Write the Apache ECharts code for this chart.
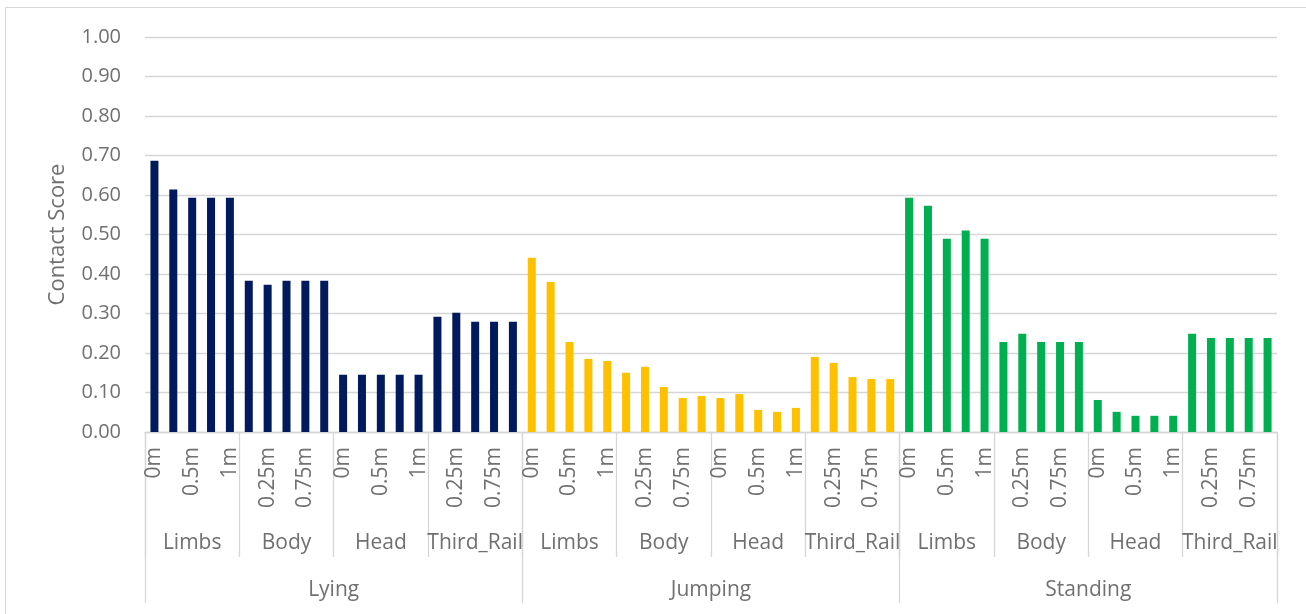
<!DOCTYPE html>
<html>
<head>
<meta charset="utf-8">
<script src="https://cdn.jsdelivr.net/npm/echarts@6/dist/echarts.min.js"></script>
<style>
  html, body { margin: 0; padding: 0; background: #ffffff; }
  #chart { width: 1306px; height: 614px; }
</style>
</head>
<body>
<div id="chart"></div>
<script>
// Contact score by posture, body part and distance
const positions = ['Lying', 'Jumping', 'Standing'];
const parts = ['Limbs', 'Body', 'Head', 'Third_Rail'];
const distances = ['0m', '0.25m', '0.5m', '0.75m', '1m'];

// Values per posture: Limbs, Body, Head, Third_Rail, each at 0m..1m
const lying = [
  0.687, 0.614, 0.593, 0.593, 0.593,
  0.383, 0.373, 0.383, 0.383, 0.383,
  0.145, 0.145, 0.145, 0.145, 0.145,
  0.292, 0.302, 0.279, 0.279, 0.279
];
const jumping = [
  0.441, 0.380, 0.228, 0.185, 0.180,
  0.150, 0.165, 0.114, 0.086, 0.091,
  0.086, 0.096, 0.056, 0.051, 0.061,
  0.190, 0.175, 0.139, 0.134, 0.134
];
const standing = [
  0.593, 0.573, 0.489, 0.510, 0.489,
  0.228, 0.249, 0.228, 0.228, 0.228,
  0.081, 0.051, 0.041, 0.041, 0.041,
  0.249, 0.238, 0.238, 0.238, 0.238
];

const yTicks = [0, 0.1, 0.2, 0.3, 0.4, 0.5, 0.6, 0.7, 0.8, 0.9, 1.0];

const seriesValues = [lying, jumping, standing];
const seriesColors = ['#001A5E', '#FFC000', '#00B050'];

// Flattened category levels
const distanceCats = [];
const partCats = [];
positions.forEach(() => {
  parts.forEach(p => {
    partCats.push(p);
    distances.forEach(d => distanceCats.push(d));
  });
});

const perPos = parts.length * distances.length;
const series = positions.map((pos, pi) => {
  const data = distanceCats.map((_, i) => {
    const k = Math.floor(i / perPos);
    return k === pi ? seriesValues[pi][i - k * perPos] : '-';
  });
  return {
    name: pos,
    type: 'bar',
    xAxisIndex: 0,
    data: data,
    barWidth: 8,
    barGap: '-100%',
    itemStyle: { color: seriesColors[pi] },
    silent: true
  };
});

const textColor = '#707070';
const lineColor = '#D6D6D6';
const fontFamily = '"Open Sans", "Noto Sans", sans-serif';

const chart = echarts.init(document.getElementById('chart'), null, { renderer: 'canvas' });
chart.setOption({
  animation: false,
  backgroundColor: '#ffffff',
  textStyle: { fontFamily: fontFamily },
  graphic: [{
    type: 'rect',
    shape: { x: 5.5, y: 7.5, width: 1320, height: 640 },
    style: { fill: 'none', stroke: lineColor, lineWidth: 1 },
    silent: true,
    z: -10
  }],
  grid: { left: 145, top: 37, width: 1132, height: 395, containLabel: false },
  xAxis: [
    {
      type: 'category',
      data: distanceCats,
      position: 'bottom',
      axisLine: { show: true, lineStyle: { color: lineColor, width: 1.3 } },
      axisTick: { show: false },
      axisLabel: {
        interval: 1,
        rotate: 90,
        margin: 15,
        color: textColor,
        fontSize: 21,
        fontFamily: fontFamily
      },
      splitLine: { show: false }
    },
    {
      type: 'category',
      data: partCats,
      position: 'bottom',
      axisLine: { show: false },
      axisTick: { show: true, length: 125, lineStyle: { color: lineColor, width: 1.3 } },
      axisLabel: {
        interval: 0,
        margin: 101,
        color: textColor,
        fontSize: 21,
        fontFamily: fontFamily
      },
      splitLine: { show: false }
    },
    {
      type: 'category',
      data: positions,
      position: 'bottom',
      axisLine: { show: false },
      axisTick: { show: true, length: 171, lineStyle: { color: lineColor, width: 1.3 } },
      axisLabel: {
        interval: 0,
        margin: 148,
        color: textColor,
        fontSize: 21,
        fontFamily: fontFamily
      },
      splitLine: { show: false }
    }
  ],
  yAxis: {
    type: 'value',
    min: yTicks[0],
    max: yTicks[yTicks.length - 1],
    interval: 0.1,
    name: 'Contact Score',
    nameLocation: 'middle',
    nameRotate: 90,
    nameGap: 76,
    nameTextStyle: { color: textColor, fontSize: 22, fontFamily: fontFamily },
    axisLine: { show: false },
    axisTick: { show: false },
    axisLabel: {
      margin: 24,
      color: textColor,
      fontSize: 20,
      fontFamily: fontFamily,
      formatter: v => v.toFixed(2)
    },
    splitLine: { show: true, lineStyle: { color: lineColor, width: 1.3 } }
  },
  series: series
});
</script>
</body>
</html>
